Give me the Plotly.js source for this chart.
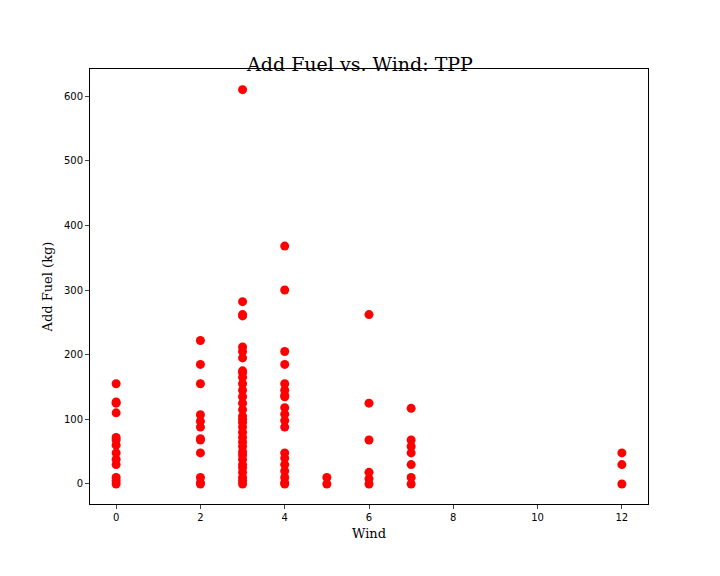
<!DOCTYPE html><html><head><script src="https://cdn.plot.ly/plotly-3.0.1.min.js"></script></head><body style="margin:0">
<div id="c" style="width:720px;height:576px"></div>
<script>
const wind0=[155,127,125,110,72,68,60,48,38,30,10,5,0];
const wind2=[222,185,155,107,97,88,70,68,48,10,2,0];
const wind3=[610,282,262,260,212,205,195,175,172,165,155,145,135,125,115,105,100,95,88,80,72,65,58,50,45,38,30,25,18,10,5,0];
const wind4=[368,300,205,185,155,145,137,135,118,108,98,88,48,40,30,20,10,2,0];
const wind5=[10,0];
const wind6=[262,125,68,18,8,0];
const wind7=[117,68,58,48,30,10,0];
const wind12=[48,30,0];
const groups=[[0,wind0],[2,wind2],[3,wind3],[4,wind4],[5,wind5],[6,wind6],[7,wind7],[12,wind12]];
const x=[],y=[];
groups.forEach(([w,v])=>v.forEach(f=>{x.push(w);y.push(f);}));
Plotly.newPlot('c',[{x:x,y:y,type:'scatter',mode:'markers',marker:{color:'#ff0000',size:9}}],{
 width:720,height:576,paper_bgcolor:'white',plot_bgcolor:'white',showlegend:false,
 margin:{l:90,r:72,t:69,b:72},
 title:{text:'Add Fuel vs. Wind: TPP',x:0.5,xanchor:'center',y:0.9,font:{family:'DejaVu Serif',size:19,color:'black'}},
 xaxis:{range:[-0.62,12.62],tickvals:[0,2,4,6,8,10,12],showgrid:false,zeroline:false,showline:true,mirror:true,linecolor:'black',ticks:'outside',ticklen:4,tickfont:{family:'DejaVu Sans',size:10,color:'black'},title:{text:'Wind',font:{family:'DejaVu Serif',size:13,color:'black'},standoff:6}},
 yaxis:{range:[-31,642],tickvals:[0,100,200,300,400,500,600],showgrid:false,zeroline:false,showline:true,mirror:true,linecolor:'black',ticks:'outside',ticklen:4,tickfont:{family:'DejaVu Sans',size:10,color:'black'},title:{text:'Add Fuel (kg)',font:{family:'DejaVu Serif',size:13,color:'black'},standoff:8}}
},{staticPlot:true});
</script></body></html>
